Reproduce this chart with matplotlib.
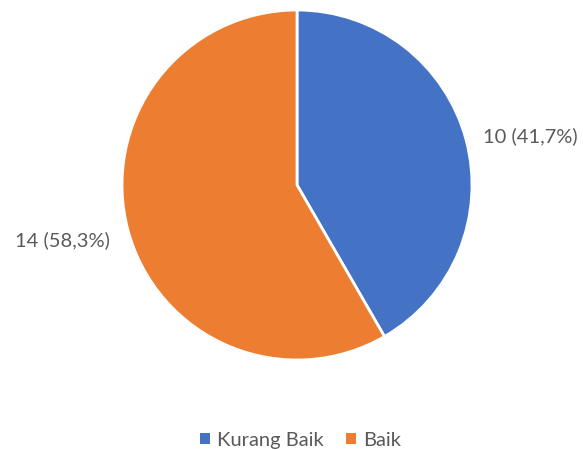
import matplotlib.pyplot as plt
from matplotlib.patches import Patch

categories = ["Kurang Baik", "Baik"]
counts = [10, 14]
colors = ["#4472C4", "#ED7D31"]

plt.rcParams['font.family'] = ['Lato', 'DejaVu Sans']
text_color = "#595959"

fig = plt.figure(figsize=(5.83, 4.5), dpi=100)
ax = fig.add_axes([0.2093, 0.2, 0.6003, 0.7778])

wedges, _ = ax.pie(counts, colors=colors, startangle=90, counterclock=False,
                   radius=1.0, wedgeprops=dict(edgecolor="white", linewidth=2))
ax.set_xlim(-1, 1)
ax.set_ylim(-1, 1)
ax.set_aspect("equal")

total = sum(counts)
label_pos = [(1.334, 0.28), (-1.343, -0.314)]
for n, (x, y) in zip(counts, label_pos):
    pct = f"{100 * n / total:.1f}".replace(".", ",")
    ax.text(x, y, f"{n} ({pct}%)", ha="center", va="center",
            fontsize=14.5, color=text_color, clip_on=False)

handles = [Patch(facecolor=c, edgecolor="none") for c in colors]
fig.legend(handles, categories, loc="center", bbox_to_anchor=(0.515, 0.022),
           ncol=2, frameon=False, fontsize=14.5, handlelength=0.5, handleheight=0.5,
           handletextpad=0.35, columnspacing=1.1, labelcolor=text_color)

fig.savefig("out.png", dpi=100)
